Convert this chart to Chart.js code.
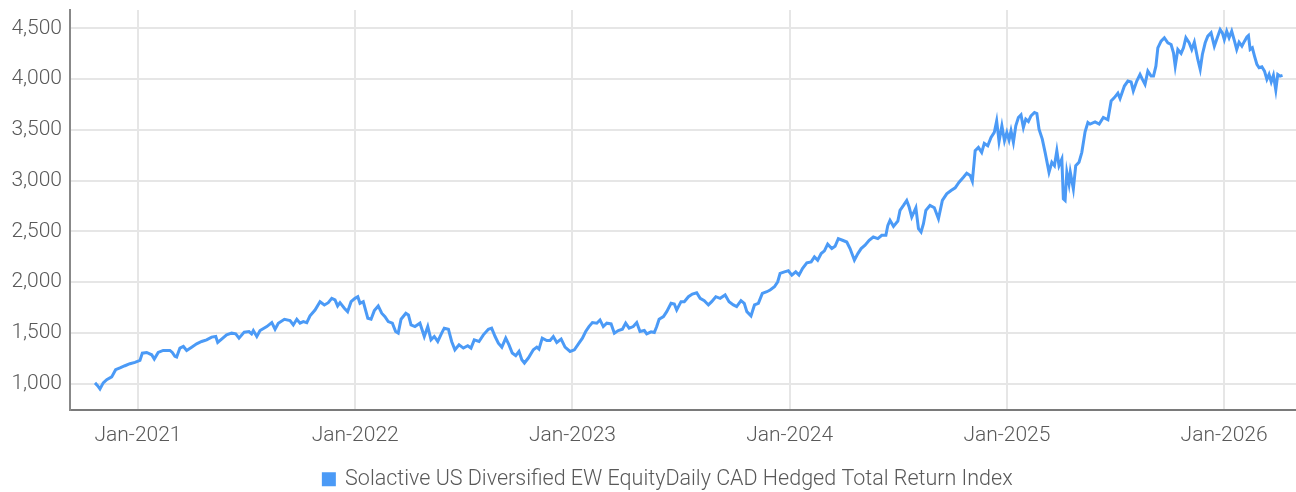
<!DOCTYPE html>
<html>
<head>
<meta charset="utf-8">
<script src="https://cdn.jsdelivr.net/npm/chart.js@4/dist/chart.umd.min.js"></script>
<style>
  html, body { margin: 0; padding: 0; background: #fff; }
  #wrap { width: 1296px; height: 492px; }
</style>
</head>
<body>
<div id="wrap"><canvas id="indexChart" width="1296" height="492"></canvas></div>
<script>
// Series name
const seriesLabel = 'Solactive US Diversified EW EquityDaily CAD Hedged Total Return Index';

// Dates as decimal years
const years = [
    2020.802, 2020.814, 2020.825, 2020.840, 2020.856, 2020.879, 2020.897, 2020.917, 2020.940, 2020.963,
    2020.986, 2021.009, 2021.020, 2021.040, 2021.063, 2021.075, 2021.093, 2021.116, 2021.147, 2021.158,
    2021.170, 2021.178, 2021.193, 2021.209, 2021.224, 2021.247, 2021.270, 2021.293, 2021.316, 2021.339,
    2021.358, 2021.367, 2021.385, 2021.408, 2021.431, 2021.450, 2021.465, 2021.489, 2021.511, 2021.523,
    2021.531, 2021.547, 2021.562, 2021.593, 2021.616, 2021.631, 2021.646, 2021.674, 2021.700, 2021.715,
    2021.731, 2021.746, 2021.761, 2021.777, 2021.792, 2021.815, 2021.838, 2021.858, 2021.876, 2021.892,
    2021.907, 2021.919, 2021.930, 2021.950, 2021.965, 2021.981, 2021.999, 2022.012, 2022.022, 2022.037,
    2022.058, 2022.073, 2022.088, 2022.106, 2022.122, 2022.137, 2022.152, 2022.171, 2022.186, 2022.198,
    2022.211, 2022.233, 2022.245, 2022.257, 2022.275, 2022.298, 2022.318, 2022.334, 2022.349, 2022.364,
    2022.380, 2022.398, 2022.410, 2022.429, 2022.444, 2022.459, 2022.478, 2022.498, 2022.518, 2022.533,
    2022.548, 2022.570, 2022.590, 2022.613, 2022.628, 2022.644, 2022.659, 2022.675, 2022.693, 2022.708,
    2022.723, 2022.739, 2022.754, 2022.767, 2022.779, 2022.797, 2022.820, 2022.836, 2022.846, 2022.861,
    2022.882, 2022.897, 2022.912, 2022.928, 2022.948, 2022.966, 2022.989, 2023.009, 2023.030, 2023.046,
    2023.061, 2023.076, 2023.092, 2023.112, 2023.127, 2023.142, 2023.158, 2023.178, 2023.193, 2023.211,
    2023.230, 2023.245, 2023.261, 2023.280, 2023.296, 2023.311, 2023.331, 2023.342, 2023.362, 2023.377,
    2023.388, 2023.399, 2023.419, 2023.434, 2023.454, 2023.469, 2023.480, 2023.500, 2023.515, 2023.534,
    2023.552, 2023.572, 2023.588, 2023.607, 2023.626, 2023.641, 2023.660, 2023.680, 2023.703, 2023.721,
    2023.741, 2023.756, 2023.776, 2023.791, 2023.803, 2023.822, 2023.838, 2023.856, 2023.874, 2023.895,
    2023.910, 2023.930, 2023.945, 2023.956, 2023.976, 2023.994, 2024.010, 2024.028, 2024.043, 2024.059,
    2024.079, 2024.099, 2024.114, 2024.129, 2024.145, 2024.160, 2024.175, 2024.194, 2024.209, 2024.224,
    2024.243, 2024.263, 2024.278, 2024.298, 2024.314, 2024.329, 2024.347, 2024.366, 2024.385, 2024.406,
    2024.424, 2024.443, 2024.452, 2024.462, 2024.478, 2024.498, 2024.508, 2024.524, 2024.539, 2024.550,
    2024.562, 2024.581, 2024.593, 2024.605, 2024.616, 2024.627, 2024.646, 2024.666, 2024.685, 2024.703,
    2024.723, 2024.743, 2024.762, 2024.780, 2024.800, 2024.815, 2024.831, 2024.841, 2024.854, 2024.869,
    2024.884, 2024.896, 2024.912, 2024.927, 2024.942, 2024.953, 2024.964, 2024.977, 2024.989, 2025.000,
    2025.010, 2025.019, 2025.030, 2025.041, 2025.053, 2025.065, 2025.076, 2025.087, 2025.099, 2025.111,
    2025.127, 2025.138, 2025.148, 2025.163, 2025.176, 2025.188, 2025.194, 2025.207, 2025.219, 2025.230,
    2025.240, 2025.253, 2025.260, 2025.268, 2025.276, 2025.286, 2025.292, 2025.306, 2025.317, 2025.332,
    2025.345, 2025.360, 2025.373, 2025.383, 2025.406, 2025.425, 2025.444, 2025.465, 2025.480, 2025.495,
    2025.511, 2025.521, 2025.541, 2025.557, 2025.572, 2025.582, 2025.598, 2025.613, 2025.624, 2025.636,
    2025.649, 2025.664, 2025.675, 2025.686, 2025.695, 2025.710, 2025.725, 2025.741, 2025.756, 2025.767,
    2025.775, 2025.787, 2025.802, 2025.813, 2025.824, 2025.839, 2025.851, 2025.863, 2025.879, 2025.890,
    2025.900, 2025.913, 2025.925, 2025.940, 2025.955, 2025.971, 2025.982, 2025.992, 2026.001, 2026.012,
    2026.023, 2026.035, 2026.048, 2026.058, 2026.069, 2026.082, 2026.094, 2026.105, 2026.112, 2026.120,
    2026.130, 2026.140, 2026.151, 2026.161, 2026.174, 2026.186, 2026.197, 2026.207, 2026.217, 2026.227,
    2026.238, 2026.247, 2026.258, 2026.269
];

// Index level
const values = [
    1007, 980, 948, 1007, 1039, 1066, 1137, 1154, 1176, 1196,
    1209, 1228, 1300, 1307, 1284, 1242, 1307, 1327, 1327, 1307,
    1268, 1261, 1350, 1366, 1327, 1359, 1392, 1415, 1431, 1458,
    1464, 1405, 1438, 1480, 1497, 1490, 1448, 1507, 1513, 1490,
    1523, 1464, 1523, 1562, 1601, 1536, 1595, 1634, 1621, 1578,
    1634, 1595, 1611, 1601, 1667, 1725, 1807, 1775, 1797, 1840,
    1824, 1765, 1797, 1742, 1709, 1807, 1840, 1856, 1791, 1807,
    1644, 1634, 1719, 1765, 1693, 1660, 1611, 1595, 1513, 1497,
    1634, 1693, 1676, 1578, 1562, 1595, 1464, 1562, 1431, 1464,
    1415, 1497, 1546, 1536, 1415, 1333, 1382, 1350, 1373, 1350,
    1431, 1415, 1480, 1536, 1546, 1464, 1399, 1359, 1448, 1382,
    1301, 1275, 1317, 1235, 1203, 1252, 1333, 1359, 1340, 1448,
    1425, 1425, 1464, 1405, 1438, 1359, 1317, 1333, 1399, 1448,
    1513, 1562, 1601, 1595, 1627, 1562, 1595, 1588, 1497, 1523,
    1536, 1595, 1546, 1562, 1601, 1513, 1523, 1490, 1510, 1503,
    1562, 1634, 1660, 1709, 1791, 1784, 1725, 1807, 1807, 1856,
    1882, 1895, 1840, 1817, 1775, 1807, 1856, 1840, 1873, 1807,
    1775, 1758, 1817, 1791, 1709, 1667, 1775, 1791, 1889, 1905,
    1922, 1954, 2003, 2085, 2101, 2111, 2069, 2101, 2069, 2134,
    2189, 2199, 2248, 2216, 2281, 2307, 2373, 2330, 2353, 2428,
    2412, 2395, 2330, 2216, 2281, 2330, 2363, 2412, 2444, 2428,
    2461, 2461, 2559, 2608, 2549, 2601, 2706, 2755, 2804, 2739,
    2641, 2732, 2526, 2493, 2575, 2706, 2755, 2732, 2624, 2804,
    2869, 2902, 2928, 2984, 3033, 3072, 3049, 2993, 3294, 3327,
    3278, 3366, 3343, 3425, 3474, 3588, 3385, 3539, 3392, 3474,
    3399, 3490, 3376, 3539, 3621, 3647, 3523, 3605, 3582, 3637,
    3670, 3660, 3506, 3408, 3278, 3147, 3082, 3180, 3147, 3294,
    3147, 3212, 2820, 2804, 3082, 2967, 3082, 2918, 3147, 3180,
    3278, 3480, 3572, 3556, 3578, 3556, 3621, 3598, 3784, 3817,
    3860, 3808, 3931, 3980, 3971, 3882, 3980, 4046, 3997, 3948,
    4078, 4029, 4029, 4127, 4307, 4373, 4406, 4357, 4340, 4259,
    4127, 4291, 4252, 4307, 4406, 4357, 4291, 4363, 4193, 4095,
    4242, 4357, 4422, 4455, 4324, 4422, 4487, 4455, 4389, 4471,
    4406, 4471, 4373, 4291, 4363, 4324, 4373, 4415, 4428, 4291,
    4307, 4226, 4144, 4111, 4121, 4078, 3997, 4046, 3971, 4036,
    3892, 4046, 4029, 4036
];

// Axis ticks
const yearTicks = [2021, 2022, 2023, 2024, 2025, 2026];
const valueTicks = [1000, 1500, 2000, 2500, 3000, 3500, 4000, 4500];

const lineColor = '#4b9af6';
const gridColor = '#e6e6e6';
const textColor = '#595959';
const fontFamily = "Roboto, 'Liberation Sans', sans-serif";

const points = years.map((yr, i) => ({ x: yr, y: values[i] }));

// nudge the legend so it is centred a bit right of the canvas middle
const legendShift = {
    id: 'legendShift',
    afterLayout(chart) {
        if (chart.legend) {
            chart.legend.left += 40;
        }
    }
};

new Chart(document.getElementById('indexChart'), {
    type: 'line',
    data: {
        datasets: [{
            label: seriesLabel,
            data: points,
            borderColor: lineColor,
            backgroundColor: lineColor,
            borderWidth: 3,
            pointRadius: 0,
            tension: 0
        }]
    },
    options: {
        responsive: false,
        animation: false,
        layout: {
            padding: { top: 10, right: 0, left: 0, bottom: -8 }
        },
        plugins: {
            legend: {
                position: 'bottom',
                labels: {
                    boxWidth: 11,
                    boxHeight: 11,
                    padding: 10,
                    color: textColor,
                    font: { family: fontFamily, size: 21.5, weight: 300 }
                }
            },
            tooltip: { enabled: false }
        },
        scales: {
            x: {
                type: 'linear',
                min: 2020.687,
                max: 2026.331,
                afterBuildTicks: (scale) => {
                    scale.ticks = yearTicks.map(v => ({ value: v }));
                },
                afterFit: (scale) => {
                    scale.height = 49;
                    scale.paddingLeft = 0;
                    scale.paddingRight = 0;
                },
                ticks: {
                    padding: 14,
                    color: textColor,
                    font: { family: fontFamily, size: 21, weight: 300 },
                    maxRotation: 0,
                    callback: (v) => 'Jan-' + v
                },
                grid: {
                    color: gridColor,
                    lineWidth: 2,
                    drawTicks: false
                },
                border: { display: true, color: '#7a7a7a', width: 2 }
            },
            y: {
                min: 745,
                max: 4680,
                afterBuildTicks: (scale) => {
                    scale.ticks = valueTicks.map(v => ({ value: v }));
                },
                afterFit: (scale) => {
                    scale.width = 70;
                    scale.paddingTop = 0;
                    scale.paddingBottom = 0;
                },
                ticks: {
                    padding: 8,
                    color: textColor,
                    font: { family: fontFamily, size: 21, weight: 300 },
                    callback: (v) => v.toLocaleString('en-US')
                },
                grid: {
                    color: gridColor,
                    lineWidth: 2,
                    drawTicks: false
                },
                border: { display: true, color: '#888888', width: 2 }
            }
        }
    },
    plugins: [legendShift]
});
</script>
</body>
</html>
